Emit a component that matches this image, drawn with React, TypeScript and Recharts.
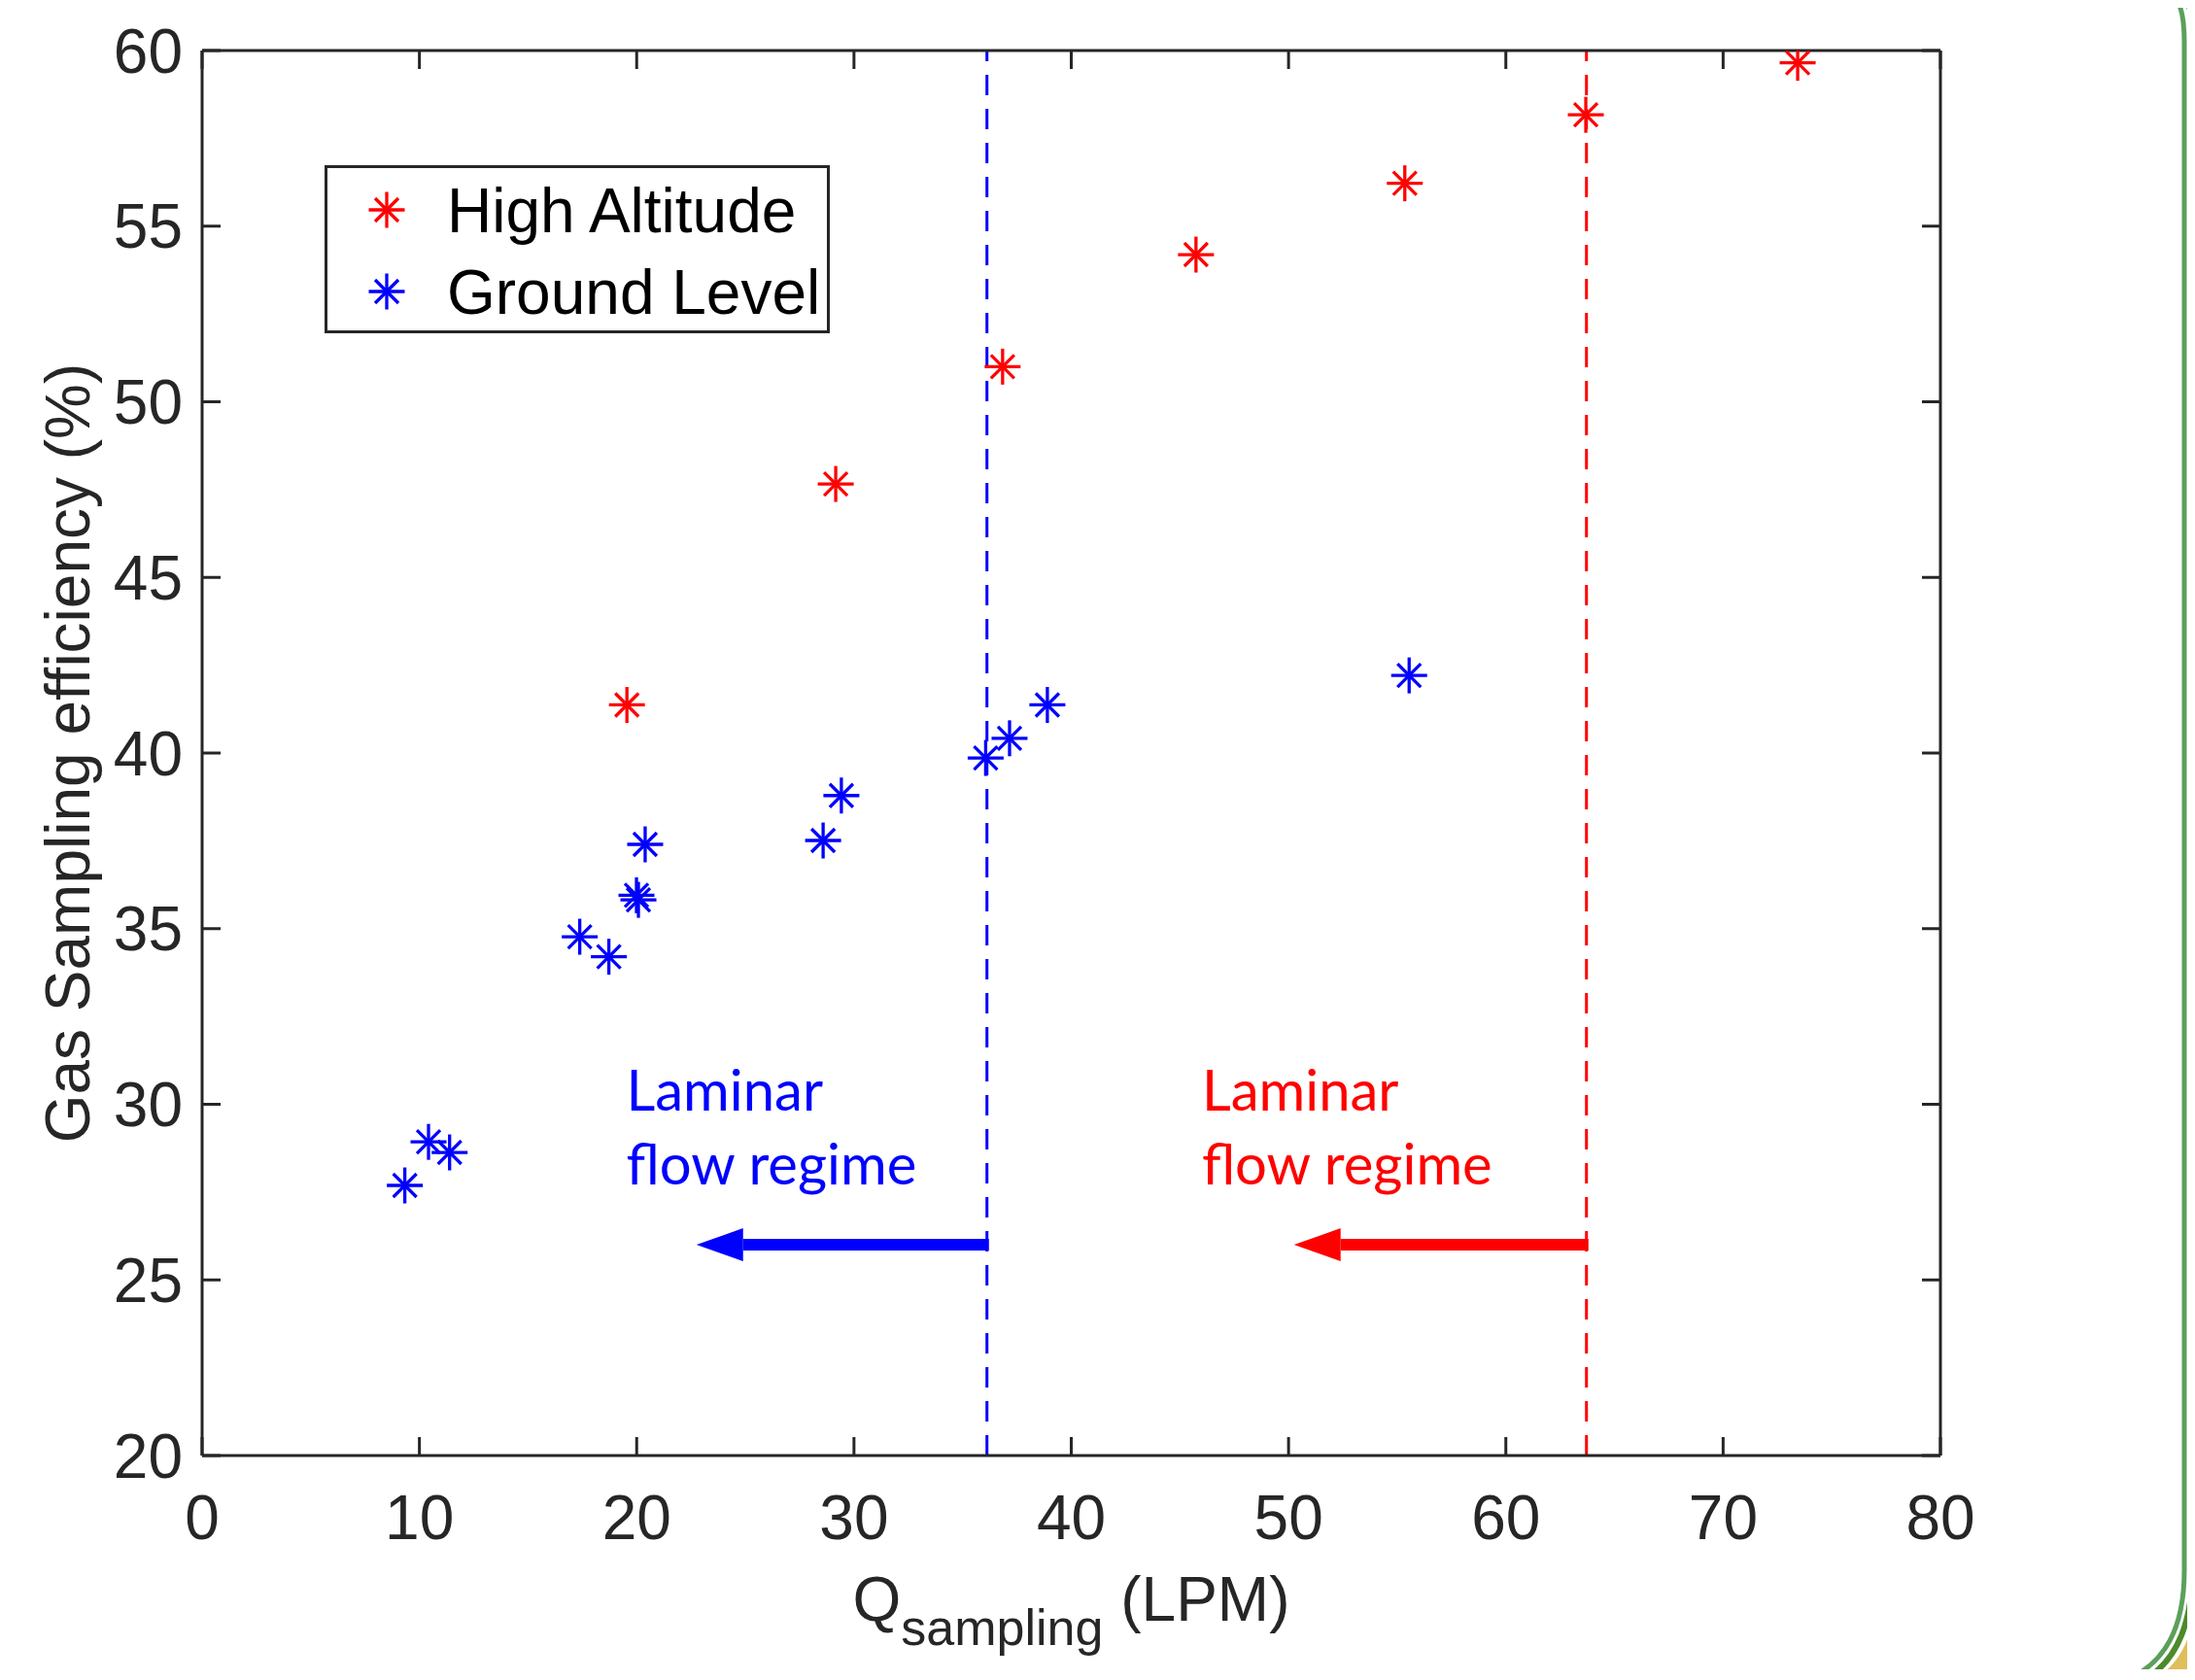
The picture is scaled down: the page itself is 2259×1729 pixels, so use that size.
import React from 'react';
import { ScatterChart, Scatter, XAxis, YAxis, ReferenceLine, ReferenceDot, Legend } from 'recharts';

// ---- data ----
const highAltQ = [19.55, 29.16, 36.84, 45.74, 55.35, 63.68, 73.43];
const highAltEff = [41.37, 47.66, 51.0, 54.19, 56.22, 58.17, 59.65];
const groundQ = [9.33, 10.42, 11.39, 17.38, 18.72, 19.99, 20.08, 20.39, 28.58, 29.42, 36.06, 37.16, 38.9, 55.55];
const groundEff = [27.69, 28.93, 28.63, 34.77, 34.2, 35.95, 35.82, 37.4, 37.51, 38.79, 39.86, 40.42, 41.37, 42.21];
const seriesNames = ['High Altitude', 'Ground Level'];
const seriesColors = ['#ff0000', '#0000ff'];
const xTicks = [0, 10, 20, 30, 40, 50, 60, 70, 80];
const yTicks = [20, 25, 30, 35, 40, 45, 50, 55, 60];
// laminar limits (ground, high altitude)
const laminarLimitQ = [36.12, 63.71];
const arrowTipQ = [22.75, 50.25];
const arrowEff = 26;
const annotationQ = [19.61, 46.1];
const annotationEff = [29.82, 27.72];
const annotationLines = ['Laminar', 'flow regime'];

const highData = highAltQ.map((q, i) => ({ q, eff: highAltEff[i] }));
const groundData = groundQ.map((q, i) => ({ q, eff: groundEff[i] }));

const FONT = '"Liberation Sans", Arial, Helvetica, sans-serif';
const AX = '#262626';

const Asterisk = (props: any) => {
  const { cx, cy, color } = props;
  if (cx == null || cy == null) return null;
  const r = 18.5;
  const d = 12;
  return (
    <g stroke={color} strokeWidth={3.3} fill="none">
      <line x1={cx - r} y1={cy} x2={cx + r} y2={cy} />
      <line x1={cx} y1={cy - r} x2={cx} y2={cy + r} />
      <line x1={cx - d} y1={cy - d} x2={cx + d} y2={cy + d} />
      <line x1={cx - d} y1={cy + d} x2={cx + d} y2={cy - d} />
    </g>
  );
};

const makeArrow = (color: string) => (props: any) => {
  const { x1, y1, x2, y2 } = props;
  if (x1 == null) return null;
  const headLen = 48;
  const headHalf = 17;
  const dir = x2 < x1 ? 1 : -1;
  const baseX = x2 + dir * headLen;
  return (
    <g>
      <line x1={x1 + 2} y1={y1} x2={baseX} y2={y2} stroke={color} strokeWidth={12} />
      <polygon points={`${x2},${y2} ${baseX},${y2 - headHalf} ${baseX},${y2 + headHalf}`} fill={color} />
    </g>
  );
};

const makeAnnotation = (color: string, line: string) => (props: any) => {
  const { cx, cy } = props;
  if (cx == null) return null;
  return (
    <text x={cx - 2} y={cy} fill={color} fontFamily='Lato, "Open Sans", sans-serif' fontSize={58} textAnchor="start">
      {line}
    </text>
  );
};

const YLabel = (props: any) => {
  const vb = props.viewBox || { x: 0, y: 43, width: 200, height: 1447 };
  const x = vb.x + 84;
  const y = vb.y + vb.height / 2;
  return (
    <text x={x} y={y} transform={`rotate(-90, ${x}, ${y})`} textAnchor="middle" fill={AX} fontFamily={FONT} fontSize={64}>
      Gas Sampling efficiency (%)
    </text>
  );
};

const XLabel = (props: any) => {
  const vb = props.viewBox || { x: 200, y: 1490, width: 1789, height: 200 };
  const x = vb.x + vb.width / 2;
  const y = vb.y + 170;
  return (
    <text x={x} y={y} textAnchor="middle" fill={AX} fontFamily={FONT} fontSize={64}>
      <tspan>Q</tspan>
      <tspan fontSize={52} dy={25}>sampling</tspan>
      <tspan dy={-25}> (LPM)</tspan>
    </text>
  );
};

const LegendBox = (props: any) => {
  const payload = props.payload || [];
  const items = seriesNames.map((n, i) => {
    const p = payload.find((e: any) => e.value === n);
    return { name: n, color: (p && p.color) || seriesColors[i] };
  });
  const rowY = [43, 127];
  return (
    <div style={{ boxSizing: 'border-box', width: 520, height: 173, border: `3px solid ${AX}`, background: '#fff', position: 'relative', fontFamily: FONT, fontSize: 64, lineHeight: '64px', color: '#000' }}>
      {items.map((it, i) => (
        <React.Fragment key={it.name}>
          <svg width={44} height={44} style={{ position: 'absolute', left: 61 - 22, top: rowY[i] - 22 }}>
            <Asterisk cx={22} cy={22} color={it.color} />
          </svg>
          <div style={{ position: 'absolute', left: 123, top: rowY[i] - 31.3, whiteSpace: 'nowrap' }}>{it.name}</div>
        </React.Fragment>
      ))}
    </div>
  );
};

const Decoration = () => (
  <svg width={2259} height={1729} style={{ position: 'absolute', left: -8, top: -8, pointerEvents: 'none' }}>
    <path d="M2259,1660 C2252,1695 2238,1718 2214,1729 L2259,1729 Z" fill="#dfbe5c" />
    <path d="M2250,0 C2255,8 2257,22 2257,44 L2257,1606 C2257,1668 2242,1708 2207,1729" stroke="#4d8a2a" strokeWidth={6} fill="none" />
    <path d="M2240,0 C2246,8 2248,22 2248,44 L2248,1616 C2248,1676 2228,1712 2188,1729" stroke="#5c9f5c" strokeWidth={5} fill="none" />
  </svg>
);

export default function App() {
  return (
    <div style={{ position: 'relative', width: 2230, height: 1710 }}>
      <ScatterChart width={2230} height={1710} margin={{ top: 43, right: 240, left: 0, bottom: 20 }} style={{ background: '#fff' }}>
        <XAxis
          type="number" dataKey="q" domain={[0, 80]} ticks={xTicks} interval={0} allowDataOverflow
          orientation="bottom" height={200}
          axisLine={{ stroke: AX, strokeWidth: 3 }} tickLine={{ stroke: AX, strokeWidth: 3 }}
          tickSize={-19} tickMargin={60}
          tick={{ fill: AX, fontSize: 64, fontFamily: FONT }}
          label={{ content: XLabel }}
        />
        <XAxis
          xAxisId="top" type="number" dataKey="q" domain={[0, 80]} ticks={xTicks} interval={0} allowDataOverflow
          orientation="top" height={1}
          axisLine={{ stroke: AX, strokeWidth: 3 }} tickLine={{ stroke: AX, strokeWidth: 3 }}
          tickSize={-19} tickFormatter={() => ''}
        />
        <YAxis
          type="number" dataKey="eff" domain={[20, 60]} ticks={yTicks} interval={0} allowDataOverflow
          orientation="left" width={200}
          axisLine={{ stroke: AX, strokeWidth: 3 }} tickLine={{ stroke: AX, strokeWidth: 3 }}
          tickSize={-19} tickMargin={39}
          tick={{ fill: AX, fontSize: 64, fontFamily: FONT }}
          label={{ content: YLabel }}
        />
        <YAxis
          yAxisId="right" type="number" dataKey="eff" domain={[20, 60]} ticks={yTicks} interval={0} allowDataOverflow
          orientation="right" width={1}
          axisLine={{ stroke: AX, strokeWidth: 3 }} tickLine={{ stroke: AX, strokeWidth: 3 }}
          tickSize={-19} tickFormatter={() => ''}
        />
        {laminarLimitQ.map((q, i) => (
          <ReferenceLine key={'v' + i} x={q} stroke={seriesColors[1 - i]} strokeWidth={3} strokeDasharray="21 14" ifOverflow="visible" />
        ))}
        {laminarLimitQ.map((q, i) => (
          <ReferenceLine
            key={'a' + i}
            segment={[{ x: q, y: arrowEff }, { x: arrowTipQ[i], y: arrowEff }]}
            stroke={seriesColors[1 - i]}
            ifOverflow="visible"
            shape={makeArrow(seriesColors[1 - i])}
          />
        ))}
        {annotationQ.map((q, i) =>
          annotationLines.map((line, j) => (
            <ReferenceDot
              key={`t${i}${j}`}
              x={q}
              y={annotationEff[j]}
              r={1}
              ifOverflow="visible"
              shape={makeAnnotation(seriesColors[1 - i], line)}
            />
          ))
        )}
        <Scatter name={seriesNames[0]} data={highData} fill={seriesColors[0]} isAnimationActive={false}
          shape={(p: any) => <Asterisk {...p} color={seriesColors[0]} />} />
        <Scatter name={seriesNames[1]} data={groundData} fill={seriesColors[1]} isAnimationActive={false}
          shape={(p: any) => <Asterisk {...p} color={seriesColors[1]} />} />
        <Legend
          layout="vertical" align="center" verticalAlign="middle"
          wrapperStyle={{ left: 326, top: 162, width: 520, height: 173 }}
          content={LegendBox}
        />
      </ScatterChart>
      <Decoration />
    </div>
  );
}
